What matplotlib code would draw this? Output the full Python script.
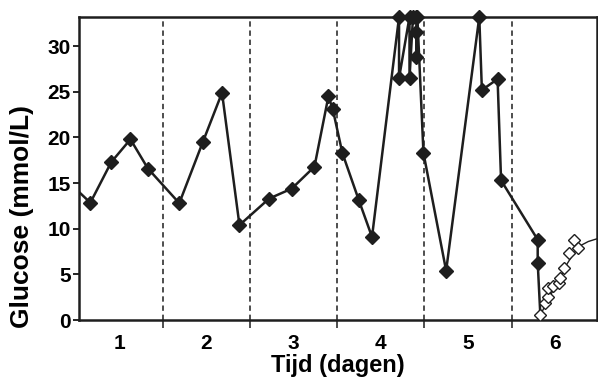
import matplotlib

matplotlib.use("Agg")
import matplotlib.pyplot as plt

plt.rcParams["font.family"] = ["Liberation Sans", "DejaVu Sans"]
plt.rcParams["font.weight"] = "bold"

# gemeten glucose (mmol/L), tijd in dagen
meet_t = [-0.10, 0.17, 0.41, 0.63, 0.83, 1.19, 1.46, 1.68, 1.88, 2.22, 2.48,
          2.74, 2.90, 2.95, 3.06, 3.25, 3.40, 3.71, 3.71, 3.83, 3.83, 3.87,
          3.91, 3.91, 3.91, 3.92, 3.99, 4.25, 4.63, 4.66, 4.84, 4.88, 5.30,
          5.30, 5.33]
meet_v = [15.3, 12.85, 17.3, 19.8, 16.6, 12.8, 19.5, 24.9, 10.4, 13.3, 14.4,
          16.8, 24.5, 23.1, 18.3, 13.1, 9.1, 33.2, 26.5, 33.2, 26.5, 33.2,
          33.2, 31.6, 28.8, 33.2, 18.3, 5.4, 33.2, 25.2, 26.4, 15.3, 8.8,
          6.3, 0.6]

# open symbolen (na behandeling)
open_t = [5.33, 5.38, 5.42, 5.42, 5.48, 5.54, 5.56, 5.60, 5.66, 5.72, 5.76]
open_v = [0.6, 1.9, 2.5, 3.5, 3.7, 4.0, 4.6, 5.7, 7.3, 8.8, 7.9]

# dunne lijn door de open symbolen
fit_t = [5.33, 5.40, 5.48, 5.56, 5.64, 5.72, 5.80, 5.88, 5.98]
fit_v = [0.5, 1.9, 3.3, 4.7, 6.2, 7.4, 8.2, 8.6, 8.9]

dag_labels = ["1", "2", "3", "4", "5", "6"]
dag_grenzen = [1, 2, 3, 4, 5]

fig = plt.figure(figsize=(5.98, 3.79), dpi=100)
ax = fig.add_axes([79 / 598, 59 / 379, 518 / 598, 303 / 379])

kleur = "#1e1e1e"
for g in dag_grenzen:
    ax.axvline(g, color=kleur, lw=1.1, ls=(0, (3.5, 2.5)), zorder=1)

ax.plot(meet_t, meet_v, color=kleur, lw=1.8, zorder=3)
# eerste punt ligt buiten de as, laatste zit onder het open symbool
ax.plot(meet_t[1:-1], meet_v[1:-1], ls="none", marker="D", ms=6.8,
        color=kleur, zorder=4, clip_on=False)
ax.plot(fit_t, fit_v, color=kleur, lw=1.0, zorder=5)
ax.plot(open_t, open_v, ls="none", marker="D", ms=6, mfc="white",
        mec=kleur, mew=1.0, zorder=6)

ax.set_xlim(0.04, 5.98)
ax.set_ylim(0, 33.2)

ax.set_xticks([0.5, 1.5, 2.5, 3.5, 4.5, 5.5])
ax.set_xticklabels(dag_labels)
ax.set_xticks(dag_grenzen, minor=True)
ax.tick_params(axis="x", which="major", length=0, pad=10, labelsize=15)
ax.tick_params(axis="x", which="minor", length=6, width=1.1, color=kleur)
ax.set_yticks([0, 5, 10, 15, 20, 25, 30])
ax.tick_params(axis="y", length=4, width=1.2, pad=2, labelsize=15)

for s in ax.spines.values():
    s.set_linewidth(1.8)
    s.set_color(kleur)

ax.set_xlabel("Tijd (dagen)", fontsize=17, fontweight="bold", labelpad=1)
fig.text(22 / 598, (379 - 217) / 379, "Glucose (mmol/L)", rotation=90,
         ha="center", va="center", fontsize=19, fontweight="bold")

fig.savefig("out.png", dpi=100)
